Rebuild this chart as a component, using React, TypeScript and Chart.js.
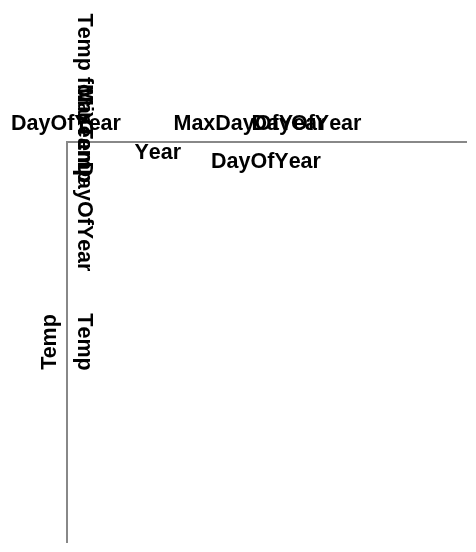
import { useEffect, useRef } from "react"
import { Chart, registerables } from "chart.js"

Chart.register(...registerables)

// the reference draws no marks at all, only axes and overlapping field titles
const years: number[] = []
const temps: number[] = []

// horizontal titles above the plot
const topTitles = ["DayOfYear", "MaxDayOfYear", "DayOfYear", "Year", "DayOfYear"]
// vertical titles (read top to bottom) beside the left axis
const sideTitles = ["Temp for Year", "MaxTemp", "MinTemp", "DayOfYear", "Temp"]
const yTitle = "Temp"

const FONT_FAMILY = "'Liberation Sans', Arial, sans-serif"
const FONT_SIZE = 21.5
const AXIS_COLOR = "#888"

// offsets from the chart area's top-left corner
const topOffsets: [number, number][] = [
  [-56, -12],
  [106.5, -12],
  [184.5, -12],
  [67.5, 17],
  [144, 26],
]
const sideOffsets: [number, number][] = [
  [11, -128.5],
  [11, -58],
  [11, -54],
  [11, 19.5],
]

const titlesPlugin = {
  id: "titles",
  afterDraw(chart: Chart) {
    const { ctx, chartArea } = chart
    const { left, top, bottom } = chartArea
    ctx.save()
    ctx.font = `bold ${FONT_SIZE}px ${FONT_FAMILY}`
    ;(ctx as any).fontKerning = "none"
    ctx.fillStyle = "#000"
    ctx.textBaseline = "alphabetic"
    ctx.textAlign = "left"

    topTitles.forEach((t, i) => {
      const [dx, dy] = topOffsets[i]
      ctx.fillText(t, left + dx, top + dy)
    })

    sideTitles.forEach((t, i) => {
      ctx.save()
      if (i < sideOffsets.length) {
        const [dx, dy] = sideOffsets[i]
        ctx.translate(left + dx, top + dy)
        ctx.rotate(Math.PI / 2)
        ctx.fillText(t, 0, 0)
      } else {
        // last one is centred on the plot like the y axis title
        ctx.translate(left + 11, (top + bottom) / 2)
        ctx.rotate(Math.PI / 2)
        ctx.textAlign = "center"
        ctx.fillText(t, 0, 0)
      }
      ctx.restore()
    })
    ctx.restore()
  },
}

export default function App() {
  const chartRef = useRef<HTMLCanvasElement>(null)
  const chartInstance = useRef<Chart | null>(null)

  useEffect(() => {
    if (!chartRef.current) return
    if (chartInstance.current) chartInstance.current.destroy()
    const ctx = chartRef.current.getContext("2d")
    if (!ctx) return

    chartInstance.current = new Chart(ctx, {
      type: "scatter",
      data: {
        datasets: [
          {
            label: "Temp",
            data: years.map((y, i) => ({ x: y, y: temps[i] })),
            pointRadius: 0,
          },
        ],
      },
      options: {
        responsive: false,
        animation: false,
        layout: { padding: { left: 33.2, top: 142, right: 10, bottom: 10 } },
        plugins: {
          legend: { display: false },
          tooltip: { enabled: false },
        },
        scales: {
          x: {
            position: "top",
            min: 0,
            max: 1,
            ticks: { display: false },
            grid: { display: false, drawTicks: false },
            border: { display: true, color: AXIS_COLOR, width: 2 },
          },
          y: {
            position: "left",
            min: 0,
            max: 1,
            ticks: { display: false },
            grid: { display: false, drawTicks: false },
            border: { display: true, color: AXIS_COLOR, width: 2 },
            title: {
              display: true,
              text: yTitle,
              color: "#000",
              font: { family: FONT_FAMILY, size: FONT_SIZE, weight: "bold" },
              padding: { top: 4, bottom: 4 },
            },
          },
        },
      },
      plugins: [titlesPlugin],
    })

    return () => {
      if (chartInstance.current) {
        chartInstance.current.destroy()
        chartInstance.current = null
      }
    }
  }, [])

  return (
    <canvas
      ref={chartRef}
      width={476}
      height={552}
      style={{ position: "absolute", left: 0, top: 0, display: "block" }}
    />
  )
}
